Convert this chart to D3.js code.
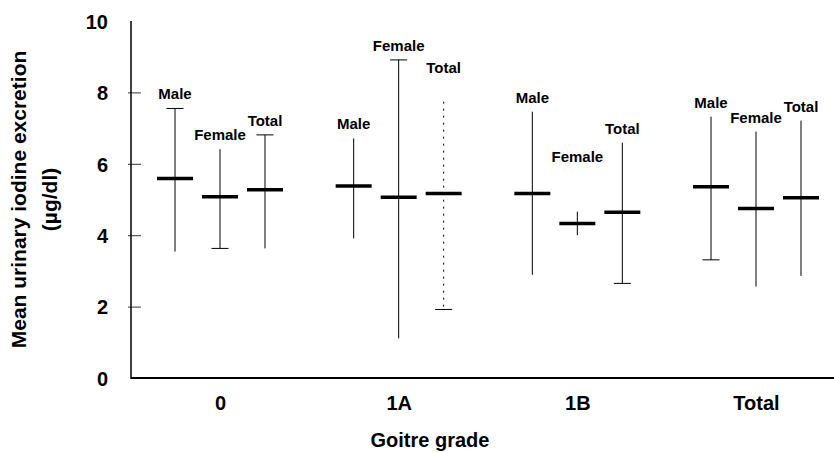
<!DOCTYPE html>
<html>
<head>
<meta charset="utf-8">
<script src="https://cdn.jsdelivr.net/npm/d3@7"></script>
<style>
  html, body { margin: 0; padding: 0; background: #fff; }
  svg { display: block; font-family: "Liberation Sans", Arial, Helvetica, sans-serif; }
</style>
</head>
<body>
<svg id="chart" width="834" height="453"></svg>
<script>
// ---- data ----
const groups = ["0", "1A", "1B", "Total"];
const series = ["Male", "Female", "Total"];
const yTicks = [0, 2, 4, 6, 8, 10];

const maleMean   = [5.59, 5.38, 5.17, 5.36];
const maleHigh   = [7.55, 6.71, 7.46, 7.32];
const maleLow    = [3.54, 3.91, 2.89, 3.31];

const femaleMean = [5.08, 5.06, 4.33, 4.75];
const femaleHigh = [6.41, 8.91, 4.66, 6.90];
const femaleLow  = [3.63, 1.11, 4.00, 2.56];

const totalMean  = [5.27, 5.17, 4.64, 5.05];
const totalHigh  = [6.81, 7.74, 6.59, 7.21];
const totalLow   = [3.63, 1.92, 2.65, 2.86];

// level (in µg/dl) above which each series label is written
const maleLabelAt   = [7.55, 6.71, 7.46, 7.32];
const femaleLabelAt = [6.41, 8.91, 5.80, 6.90];
const totalLabelAt  = [6.81, 8.29, 6.59, 7.21];

// which whisker ends carry a cap
const maleCaps   = ["top", "", "", "bottom"];
const femaleCaps = ["bottom", "top", "", ""];
const totalCaps  = ["top", "bottom", "bottom", ""];

// ---- build rows ----
const seriesData = {
  Male:   { mean: maleMean,   hi: maleHigh,   lo: maleLow,   lab: maleLabelAt,   caps: maleCaps },
  Female: { mean: femaleMean, hi: femaleHigh, lo: femaleLow, lab: femaleLabelAt, caps: femaleCaps },
  Total:  { mean: totalMean,  hi: totalHigh,  lo: totalLow,  lab: totalLabelAt,  caps: totalCaps }
};
const rows = [];
groups.forEach((g, gi) => {
  series.forEach(s => {
    const d = seriesData[s];
    rows.push({ group: g, series: s, mean: d.mean[gi], hi: d.hi[gi], lo: d.lo[gi], lab: d.lab[gi], caps: d.caps[gi] });
  });
});

// ---- scales ----
const svg = d3.select("#chart");
const axisX = 131, axisTop = 21, axisBottom = 378;

const y = d3.scaleLinear().domain([0, 10]).range([axisBottom, axisTop]);
const xGroup = d3.scalePoint().domain(groups).range([220, 756]);
const xSeries = d3.scalePoint().domain(series).range([-45, 45]);
const cx = d => xGroup(d.group) + xSeries(d.series);

// ---- axes ----
const yAxis = d3.axisLeft(y).tickValues(yTicks).tickSize(0).tickPadding(0).tickFormat(d3.format("d"));
const gy = svg.append("g").attr("transform", `translate(${axisX},0)`).call(yAxis);
gy.select(".domain").remove();
gy.selectAll(".tick text")
  .attr("x", -23)
  .attr("dy", "0.36em")
  .attr("font-size", 20)
  .attr("font-weight", "bold")
  .attr("fill", "#000")
  .attr("font-family", "'Liberation Sans', Arial, sans-serif");
// small inner ticks
gy.selectAll(".tick").filter(d => d > 0 && d < 10)
  .append("line").attr("x1", -3).attr("x2", 10).attr("y1", 0).attr("y2", 0)
  .attr("stroke", "#000").attr("stroke-width", 0.8);

svg.append("line").attr("x1", axisX).attr("x2", axisX).attr("y1", axisTop).attr("y2", axisBottom + 1)
  .attr("stroke", "#000").attr("stroke-width", 1.5);
svg.append("line").attr("x1", axisX).attr("x2", 834).attr("y1", axisBottom).attr("y2", axisBottom)
  .attr("stroke", "#000").attr("stroke-width", 2);

const xAxis = d3.axisBottom(xGroup).tickSize(0).tickPadding(0);
const gx = svg.append("g").attr("transform", `translate(0,${axisBottom})`).call(xAxis);
gx.select(".domain").remove();
gx.selectAll(".tick text")
  .attr("y", 32)
  .attr("dy", 0)
  .attr("font-size", 20)
  .attr("font-weight", "bold")
  .attr("fill", "#000")
  .attr("font-family", "'Liberation Sans', Arial, sans-serif");

// axis titles
svg.append("text").attr("x", 430).attr("y", 447).attr("text-anchor", "middle")
  .attr("font-size", 20).attr("font-weight", "bold").text("Goitre grade");
const yt = svg.append("g").attr("transform", `translate(0,${(axisTop + axisBottom) / 2}) rotate(-90)`);
yt.append("text").attr("x", 0).attr("y", 26).attr("text-anchor", "middle")
  .attr("font-size", 21).attr("font-weight", "bold").text("Mean urinary iodine excretion");
yt.append("text").attr("x", 0).attr("y", 57).attr("text-anchor", "middle")
  .attr("font-size", 21).attr("font-weight", "bold").text("(µg/dl)");

// ---- marks ----
const dashed = d => (d.group === "1A" && d.series === "Total") ? "2,5" : null;
const marks = svg.append("g").selectAll("g").data(rows).join("g");

marks.append("line")
  .attr("x1", cx).attr("x2", cx)
  .attr("y1", d => y(d.hi)).attr("y2", d => y(d.lo))
  .attr("stroke", "#000").attr("stroke-width", 1)
  .attr("stroke-dasharray", dashed);

marks.filter(d => d.caps === "top").append("line")
  .attr("x1", d => cx(d) - 8.5).attr("x2", d => cx(d) + 8.5)
  .attr("y1", d => y(d.hi)).attr("y2", d => y(d.hi))
  .attr("stroke", "#000").attr("stroke-width", 1);
marks.filter(d => d.caps === "bottom").append("line")
  .attr("x1", d => cx(d) - 8.5).attr("x2", d => cx(d) + 8.5)
  .attr("y1", d => y(d.lo)).attr("y2", d => y(d.lo))
  .attr("stroke", "#000").attr("stroke-width", 1);

marks.append("line")
  .attr("x1", d => cx(d) - 18).attr("x2", d => cx(d) + 18)
  .attr("y1", d => y(d.mean)).attr("y2", d => y(d.mean))
  .attr("stroke", "#000").attr("stroke-width", 3.5);

marks.append("text")
  .attr("x", cx).attr("y", d => y(d.lab) - 9)
  .attr("text-anchor", "middle")
  .attr("font-size", 15).attr("font-weight", "bold")
  .text(d => d.series);
</script>
</body>
</html>
